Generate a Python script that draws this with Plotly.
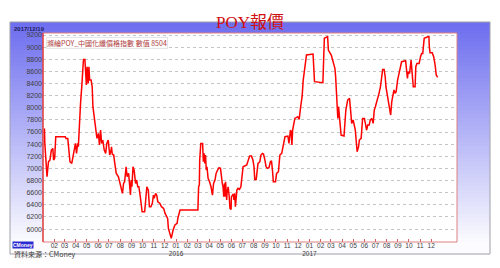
import plotly.graph_objects as go
import pandas as pd

dates = [
"2015-01-05","2015-01-06","2015-01-12","2015-01-16","2015-01-20","2015-01-24","2015-01-28","2015-01-30",
"2015-02-02","2015-02-05","2015-03-03","2015-03-05","2015-03-10","2015-03-12","2015-03-16","2015-03-21",
"2015-03-25","2015-03-31","2015-04-03","2015-04-06","2015-04-08","2015-04-10","2015-04-14","2015-04-18",
"2015-04-22","2015-04-26","2015-04-28","2015-04-30","2015-05-02","2015-05-05","2015-05-07","2015-05-09",
"2015-05-13","2015-05-16","2015-05-18","2015-05-22","2015-05-26","2015-05-29","2015-06-02","2015-06-05",
"2015-06-08","2015-06-11","2015-06-14","2015-06-18","2015-06-22","2015-06-25","2015-06-29","2015-07-03",
"2015-07-07","2015-07-08","2015-07-10","2015-07-14","2015-07-17","2015-07-21","2015-07-27","2015-07-31",
"2015-08-04","2015-08-07","2015-08-10","2015-08-13","2015-08-17","2015-08-20","2015-08-24","2015-08-26",
"2015-08-29","2015-08-31","2015-09-02","2015-09-05","2015-09-08","2015-09-12","2015-09-15","2015-09-18",
"2015-09-21","2015-09-25","2015-09-28","2015-09-30","2015-10-07","2015-10-10","2015-10-13","2015-10-17",
"2015-10-20","2015-10-24","2015-10-28","2015-10-31","2015-11-02","2015-11-06","2015-11-09","2015-11-12",
"2015-11-18","2015-11-22","2015-11-28","2015-12-02","2015-12-09","2015-12-11","2015-12-16","2015-12-19",
"2015-12-24","2015-12-29","2016-01-04","2016-01-06","2016-01-12","2016-03-01","2016-03-03","2016-03-05",
"2016-03-06","2016-03-09","2016-03-14","2016-03-16","2016-03-18","2016-03-20","2016-03-22","2016-03-24",
"2016-03-26","2016-03-29","2016-04-02","2016-04-06","2016-04-10","2016-04-13","2016-04-17","2016-04-20",
"2016-04-24","2016-04-28","2016-05-02","2016-05-04","2016-05-07","2016-05-09","2016-05-11","2016-05-13",
"2016-05-14","2016-05-16","2016-05-19","2016-05-20","2016-05-23","2016-05-26","2016-05-28","2016-05-31",
"2016-06-01","2016-06-04","2016-06-06","2016-06-08","2016-06-10","2016-06-12","2016-06-14","2016-06-16",
"2016-06-19","2016-06-23","2016-06-27","2016-06-30","2016-07-03","2016-07-13","2016-07-17","2016-07-21",
"2016-07-26","2016-07-30","2016-08-02","2016-08-04","2016-08-08","2016-08-11","2016-08-13","2016-08-18",
"2016-08-21","2016-08-25","2016-08-28","2016-09-01","2016-09-04","2016-09-08","2016-09-12","2016-09-16",
"2016-09-19","2016-09-22","2016-09-24","2016-09-30","2016-10-03","2016-10-08","2016-10-10","2016-10-12",
"2016-10-17","2016-10-20","2016-10-22","2016-10-26","2016-11-03","2016-11-06","2016-11-08","2016-11-10",
"2016-11-12","2016-11-14","2016-11-16","2016-11-20","2016-11-22","2016-11-30","2016-12-04","2016-12-08",
"2016-12-12","2016-12-15","2016-12-20","2016-12-24","2017-01-11","2017-01-13","2017-01-15","2017-02-07",
"2017-02-09","2017-02-11","2017-02-20","2017-02-22","2017-03-02","2017-03-07","2017-03-12","2017-03-14",
"2017-03-16","2017-03-17","2017-03-20","2017-03-22","2017-03-24","2017-03-26","2017-03-29","2017-04-06",
"2017-04-08","2017-04-11","2017-04-16","2017-04-21","2017-04-24","2017-04-27","2017-05-01","2017-05-04",
"2017-05-07","2017-05-10","2017-05-12","2017-05-16","2017-05-18","2017-05-23","2017-05-25","2017-05-27",
"2017-06-01","2017-06-04","2017-06-07","2017-06-10","2017-06-14","2017-06-17","2017-06-21","2017-06-25",
"2017-06-26","2017-06-28","2017-07-01","2017-07-04","2017-07-07","2017-07-11","2017-07-15","2017-07-19",
"2017-07-21","2017-07-25","2017-07-28","2017-07-30","2017-08-02","2017-08-05","2017-08-08","2017-08-11",
"2017-08-12","2017-08-15","2017-08-18","2017-08-21","2017-08-24","2017-08-27","2017-08-31","2017-09-04",
"2017-09-07","2017-09-11","2017-09-22","2017-09-25","2017-09-27","2017-09-29","2017-10-03","2017-10-07",
"2017-10-10","2017-10-13","2017-10-18","2017-10-20","2017-10-23","2017-10-29","2017-11-02","2017-11-05",
"2017-11-08","2017-11-10","2017-11-12","2017-11-22","2017-11-25","2017-11-26","2017-11-28","2017-12-04",
"2017-12-08","2017-12-12","2017-12-15","2017-12-18","2017-12-19",
]

values = [
7660,7413,6863,7111,7138,7303,7330,7138,
7166,7523,7523,7495,7495,7303,7111,7083,
7248,7413,7248,7413,7358,7633,8073,8402,
8795,8795,8622,8375,8677,8402,8677,8457,
8457,8347,8018,7798,7633,7495,7578,7386,
7633,7413,7468,7303,7248,7413,7468,7221,
7303,7358,7237,7221,7083,6918,6863,6753,
6698,6588,6753,6781,7028,6863,6918,6698,
6561,6808,6698,7028,6973,6753,6808,6698,
6698,6534,6424,6286,6286,6506,6698,6643,
6369,6369,6424,6561,6506,6589,6561,6451,
6424,6369,6341,6258,6177,6012,5874,5847,
5984,6067,6094,6177,6314,6314,6698,6726,
7138,7413,7413,7111,7248,7083,7221,6973,
7028,6836,6781,6698,6561,6753,6808,6918,
6973,7012,7001,6863,6753,6698,6533,6753,
6534,6781,6479,6588,6698,6534,6341,6325,
6534,6561,6578,6479,6589,6369,6534,6643,
6671,6655,6698,6863,7028,7056,7138,7204,
7204,7138,7028,6819,6819,6973,7083,7111,
7221,7248,7237,7138,7028,7001,7012,7111,
7127,6946,6781,6781,6918,6946,7193,7221,
7248,7358,7413,7523,7534,7413,7523,7633,
7605,7386,7633,7770,7825,7853,7809,8018,
8183,8457,8650,8870,8886,8732,8430,8413,
8732,9145,9172,8952,8870,8732,8650,8512,
8238,8018,7825,8018,7908,7825,7550,7534,
7688,7963,8128,8155,7963,7743,7798,7715,
7633,7413,7276,7358,7468,7495,7688,7825,
7825,7688,7633,7715,7715,7798,7825,7743,
7853,7963,8018,8073,8128,8238,8347,8512,
8633,8633,8512,8347,8238,8128,8018,7963,
7880,8100,8210,8293,8238,8265,8457,8567,
8705,8760,8776,8567,8485,8595,8567,8787,
8567,8347,8347,8677,8732,8732,8842,8897,
8897,9007,9145,9172,9172,9007,8908,8908,
8842,8705,8540,8512,8504,
]

y_ticks = list(range(6000, 9201, 200))
month_ticks = pd.date_range("2015-02-01", "2017-12-01", freq="MS")
month_labels = [d.strftime("%m") + ("<br>" + d.strftime("%Y") if d.month == 1 else "") for d in month_ticks]
series_name = "滌綸POY_中國化纖價格指數"
title_text = "POY報價"
date_label = "2017/12/19"
source_text = "資料來源：CMoney"

fig = go.Figure()
fig.add_trace(go.Scatter(x=dates, y=values, mode="lines",
                         line=dict(color="#ff0000", width=1.5), showlegend=False))

# geometry helpers (pixel -> paper)
L, R, T, B = 43, 457, 33, 242
def px(x):
    return (x - L) / (R - L)
def py(y):
    return (B - y) / (B - T)

shapes = []
# vertical gradient panel
top, bot = 22, 254
N = 58
c0 = (110, 110, 240)
c1 = (252, 252, 255)
for i in range(N):
    t = min(1.0, i / (N - 1) * 1.04)
    col = tuple(int(c0[k] + (c1[k] - c0[k]) * t) for k in range(3))
    ya = top + (bot - top) * i / N
    yb = top + (bot - top) * (i + 1) / N + 0.6
    shapes.append(dict(type="rect", xref="paper", yref="paper", layer="below",
                       x0=px(10), x1=px(490), y0=py(min(yb, bot)), y1=py(ya),
                       line=dict(width=0), fillcolor="rgb(%d,%d,%d)" % col))
shapes.append(dict(type="rect", xref="paper", yref="paper", layer="below",
                   x0=px(10), x1=px(490), y0=py(254), y1=py(22),
                   line=dict(width=1, color="#a0a0a8"), fillcolor="rgba(0,0,0,0)"))
# white plot area
shapes.append(dict(type="rect", xref="paper", yref="paper", layer="below",
                   x0=0, x1=1, y0=0, y1=1, line=dict(width=0), fillcolor="white"))
# plot border
shapes.append(dict(type="rect", xref="paper", yref="paper", layer="above",
                   x0=0, x1=1, y0=0, y1=1, line=dict(width=1, color="#dc8080")))
shapes.append(dict(type="line", xref="paper", yref="paper", layer="above",
                   x0=0, x1=0, y0=0, y1=1, line=dict(width=1.2, color="#e03030")))

annotations = [
    dict(text=title_text, xref="paper", yref="paper", x=px(250), y=py(11),
         showarrow=False, font=dict(family="Liberation Serif, Noto Sans CJK TC", size=17, color="#d01010")),
    dict(text="<b>" + date_label + "</b>", xref="paper", yref="paper", x=px(13), y=py(25),
         xanchor="left", showarrow=False, borderpad=0,
         font=dict(family="Liberation Sans", size=6, color="#20205a")),
    dict(text=series_name + " 數值 " + str(values[-1]), xref="paper", yref="paper", x=px(46), y=py(36.5),
         xanchor="left", showarrow=False, bgcolor="white", bordercolor="#e6e6e6", borderpad=0,
         font=dict(family="Noto Sans CJK TC", size=7, color="#b04040")),
    dict(text=source_text, xref="paper", yref="paper", x=px(12), y=py(261),
         xanchor="left", showarrow=False, font=dict(family="Noto Sans CJK TC", size=7, color="#404040")),
    dict(text="<b>CMoney</b>", xref="paper", yref="paper", x=px(12), y=py(248.5),
         xanchor="left", showarrow=False, bgcolor="#2a2ad0", borderpad=0,
         font=dict(family="Liberation Sans", size=5, color="white")),
]

fig.update_layout(
    width=500, height=268,
    margin=dict(l=L, r=500 - R, t=T, b=268 - B),
    paper_bgcolor="white", plot_bgcolor="white",
    shapes=shapes, annotations=annotations,
    xaxis=dict(type="date", range=["2015-01-01", "2018-02-10"],
               tickvals=month_ticks, ticktext=month_labels, tickangle=0,
               ticks="inside", ticklen=3, tickcolor="#d06060",
               ticklabelstandoff=-2,
               tickfont=dict(family="Liberation Sans", size=6.5, color="#404040"),
               showgrid=False, zeroline=False, showline=False),
    yaxis=dict(range=[5787, 9233], tickvals=y_ticks,
               tickfont=dict(family="Liberation Sans", size=7, color="#404040"),
               showgrid=True, gridcolor="#c4c4c4", griddash="dot", gridwidth=1,
               zeroline=False, showline=False, ticks=""),
)

fig.write_html("out.html")
